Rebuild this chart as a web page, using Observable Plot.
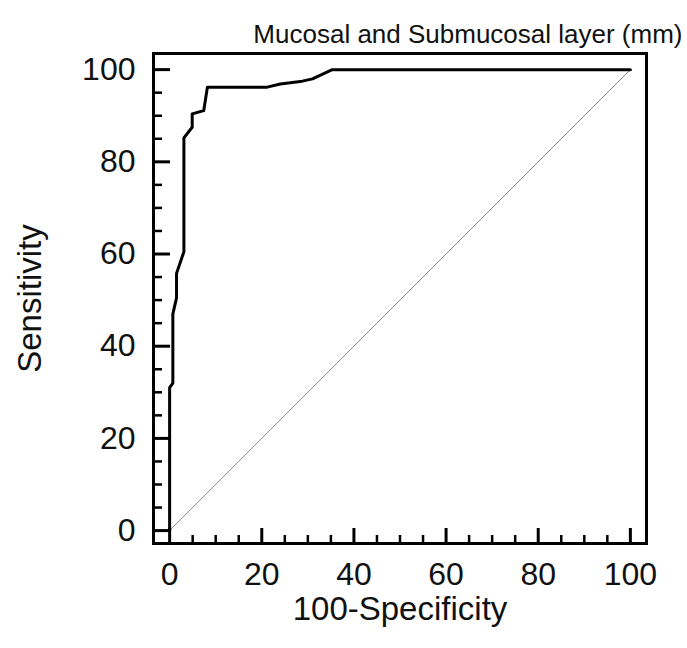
<!DOCTYPE html>
<html>
<head>
<meta charset="utf-8">
<script src="https://cdn.jsdelivr.net/npm/d3@7"></script>
<script src="https://cdn.jsdelivr.net/npm/@observablehq/plot@0.6"></script>
<style>
  html, body { margin: 0; padding: 0; background: #fff; }
  #chart svg { display: block; }
</style>
</head>
<body>
<div id="chart"></div>
<script>
// ROC curve: 100-Specificity (x) vs Sensitivity (y)
const fpr = [0, 0, 0.7, 0.7, 1.5, 1.5, 3.1, 3.1, 4.9, 4.9, 7.4, 8.2, 21.2, 24, 28.8, 31, 35.3, 100];
const tpr = [0, 31, 32, 47, 50.5, 55.8, 60.5, 85.2, 87.5, 90.4, 91.1, 96.2, 96.2, 96.9, 97.5, 98, 100, 100];
const diagonal = [0, 100];
const majorTicks = [0, 20, 40, 60, 80, 100];
const minorTicks = [5, 10, 15, 25, 30, 35, 45, 50, 55, 65, 70, 75, 85, 90, 95];
const title = "Mucosal and Submucosal layer (mm)";
const xLabel = "100-Specificity";
const yLabel = "Sensitivity";

const W = 687, H = 648;
const mL = 153, mR = 41, mT = 53, mB = 105;
const FW = W - mL - mR, FH = H - mT - mB;

const curve = fpr.map((x, i) => ({x, y: tpr[i]}));
const diag = diagonal.map(v => ({x: v, y: v}));

const font = "'Liberation Sans', Arial, Helvetica, sans-serif";

const chart = Plot.plot({
  width: W,
  height: H,
  marginLeft: mL,
  marginRight: mR,
  marginTop: mT,
  marginBottom: mB,
  style: {fontFamily: font, color: "#111", background: "#fff"},
  x: {domain: [-3.5, 103.5]},
  y: {domain: [-2.8, 103.5]},
  marks: [
    Plot.line(diag, {x: "x", y: "y", stroke: "#8a8a8a", strokeWidth: 1}),
    Plot.line(curve, {x: "x", y: "y", stroke: "#000", strokeWidth: 3, strokeLinejoin: "round"}),
    // inward ticks
    Plot.ruleX(majorTicks, {x: d => d, insetTop: FH - 15, stroke: "#000", strokeWidth: 3}),
    Plot.ruleX(minorTicks, {x: d => d, insetTop: FH - 8, stroke: "#000", strokeWidth: 2.5}),
    Plot.ruleY(majorTicks, {y: d => d, insetRight: FW - 17, stroke: "#000", strokeWidth: 3}),
    Plot.ruleY(minorTicks, {y: d => d, insetRight: FW - 9, stroke: "#000", strokeWidth: 2.5}),
    Plot.frame({stroke: "#000", strokeWidth: 3}),
    Plot.axisX(majorTicks, {tickSize: 0, tickPadding: 19, fontSize: 32, label: null}),
    Plot.axisY(majorTicks, {tickSize: 0, tickPadding: 18, fontSize: 32, label: null}),
    Plot.text([xLabel], {text: d => d, frameAnchor: "bottom", textAnchor: "middle", dy: 76, fontSize: 33, fill: "#111"}),
    Plot.text([yLabel], {text: d => d, frameAnchor: "left", textAnchor: "middle", dx: -123, rotate: -90, fontSize: 33, fill: "#111"}),
    Plot.text([title], {text: d => d, frameAnchor: "top-right", textAnchor: "end", dx: 36, dy: -29, fontSize: 26, fill: "#111"})
  ]
});
document.getElementById("chart").appendChild(chart);
</script>
</body>
</html>
